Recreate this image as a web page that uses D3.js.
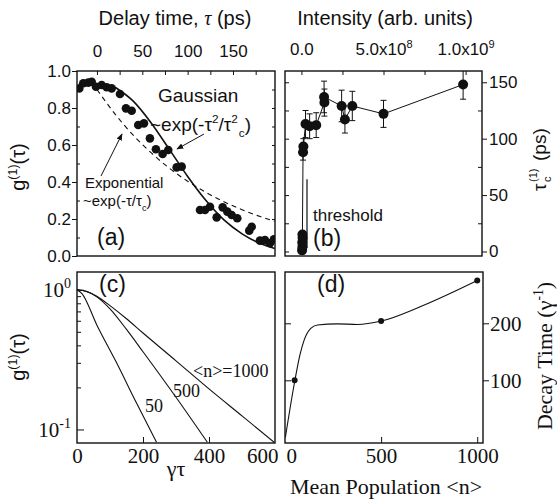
<!DOCTYPE html>
<html>
<head>
<meta charset="utf-8">
<script src="https://cdn.jsdelivr.net/npm/d3@7"></script>
<style>
  body { margin: 0; background: #fff; }
  svg { display: block; }
</style>
</head>
<body>
<svg id="chart" width="557" height="502"></svg>
<script>
// ---------- (a) first-order coherence vs delay time ----------
const delayPs = [-19.5, -15.1, -9.6, -5.8, -1.1, 5.2, 10.7, 16.2, 25.4, 32.0, 38.3, 45.5, 51.8,
  58.4, 65.0, 72.4, 78.6, 87.9, 93.4, 113.6, 119.1, 124.6, 132.0, 138.6, 143.7, 148.5, 154.7,
  167.9, 170.6, 179.7, 185.2, 190.7, 195.1];
const g1Measured = [0.906, 0.934, 0.937, 0.942, 0.915, 0.924, 0.912, 0.906, 0.876, 0.798, 0.785,
  0.708, 0.717, 0.636, 0.577, 0.551, 0.573, 0.479, 0.483, 0.249, 0.249, 0.266, 0.209, 0.263,
  0.240, 0.222, 0.204, 0.137, 0.158, 0.083, 0.086, 0.069, 0.090];
const gaussDelay = [20, 40, 60, 80, 100, 120, 140, 160, 180, 196];
const gaussG1 = [0.912, 0.837, 0.718, 0.575, 0.430, 0.301, 0.195, 0.120, 0.068, 0.041];
const expDelay = [0, 20, 40, 60, 80, 100, 120, 140, 160, 180, 196];
const expG1 = [0.900, 0.767, 0.653, 0.557, 0.474, 0.404, 0.344, 0.293, 0.250, 0.213, 0.188];
const delayTicks = [0, 50, 100, 150];
const g1Ticks = [0, 0.2, 0.4, 0.6, 0.8, 1.0];

// ---------- (b) coherence time vs pump intensity ----------
const intensity = [0.004e9, 0.006e9, 0.005e9, 0.007e9, 0.006e9, 0.010e9, 0.012e9, 0.025e9,
  0.050e9, 0.090e9, 0.140e9, 0.138e9, 0.245e9, 0.265e9, 0.310e9, 0.500e9, 0.985e9];
const coherenceTime = [1, 4, 8, 12, 15, 88, 93, 113, 111, 112, 132, 137, 129, 117, 129, 122, 148];
const coherenceErr = [0, 0, 0, 0, 0, 7, 7, 12, 11, 11, 12, 14, 14, 12, 13, 12, 13];
const intensityTicks = [0, 5e8, 1e9];
const tauTicks = [0, 50, 100, 150];

// ---------- (c) calculated g1 on a log scale ----------
const gammaTau1000 = [0, 30, 60, 100, 150, 200, 300, 400, 500, 600];
const g1n1000 = [1.0, 0.97, 0.90, 0.77, 0.62, 0.49, 0.31, 0.195, 0.125, 0.080];
const gammaTau500 = [0, 30, 60, 100, 150, 200, 300, 395];
const g1n500 = [1.0, 0.97, 0.89, 0.73, 0.52, 0.36, 0.17, 0.081];
const gammaTau50 = [0, 15, 60, 120, 180, 241];
const g1n50 = [1.0, 0.94, 0.56, 0.30, 0.155, 0.081];
const gammaTauTicks = [0, 200, 400, 600];

// ---------- (d) decay time vs mean population ----------
const popCurve = [2, 52, 78, 100, 134, 169, 272, 376, 501, 703, 1000];
const decayCurve = [0, 101, 145, 171, 191, 197, 199, 198, 204, 229, 275];
const popPoints = [50, 500, 1000];
const decayPoints = [100, 204, 275];
const popTicks = [0, 500, 1000];
const decayTicks = [100, 200];

const SANS = '"Liberation Sans", Arial, Helvetica, sans-serif';
const SERIF = '"Liberation Serif", "Times New Roman", serif';
const INK = '#111';

const svg = d3.select('#chart');

// panel frames
const A = {x0: 77, x1: 275, y0: 71, y1: 256};
const B = {x0: 285, x1: 482, y0: 71, y1: 256};
const C = {x0: 77, x1: 275, y0: 272, y1: 443};
const D = {x0: 285, x1: 483, y0: 272, y1: 443};

// text with super/subscript runs
function rich(parent, x, y, parts, o = {}) {
  const size = o.size || 17;
  const t = parent.append('text')
    .attr('x', x).attr('y', y)
    .attr('font-family', o.family || SANS)
    .attr('font-size', size)
    .attr('text-anchor', o.anchor || 'start')
    .attr('fill', INK);
  if (o.transform) t.attr('transform', o.transform);
  let cur = 0;
  parts.forEach(p => {
    const q = typeof p === 'string' ? {t: p} : p;
    const off = q.k === 'sup' ? -0.42 * size : q.k === 'sub' ? 0.3 * size : 0;
    const ts = t.append('tspan').text(q.t).attr('dy', off - cur);
    if (q.dx) ts.attr('dx', q.dx);
    if (q.k) ts.attr('font-size', (q.scale || 0.62) * size);
    if (q.family) ts.attr('font-family', q.family);
    if (q.italic) ts.attr('font-style', 'italic');
    cur = off;
  });
  return t;
}

function clip(id, F) {
  svg.append('clipPath').attr('id', id).append('rect')
    .attr('x', F.x0).attr('y', F.y0).attr('width', F.x1 - F.x0).attr('height', F.y1 - F.y0);
}
function frame(F) {
  svg.append('rect').attr('x', F.x0).attr('y', F.y0)
    .attr('width', F.x1 - F.x0).attr('height', F.y1 - F.y0)
    .attr('fill', 'none').attr('stroke', INK).attr('stroke-width', 1.4);
}
// tick-only axis (no labels, no domain line)
function ticksOnly(gen, tx, ty) {
  const g = svg.append('g').attr('transform', `translate(${tx},${ty})`)
    .call(gen.tickFormat(() => ''));
  g.select('.domain').remove();
  g.selectAll('line').attr('stroke', INK).attr('stroke-width', 1);
  return g;
}
function labelAxis(gen, tx, ty, family, size) {
  const g = svg.append('g').attr('transform', `translate(${tx},${ty})`).call(gen);
  g.select('.domain').remove();
  g.selectAll('line').attr('stroke', INK).attr('stroke-width', 1);
  g.selectAll('text').attr('font-family', family).attr('font-size', size).attr('fill', INK);
  return g;
}

['ca', 'cb', 'cc', 'cd'].forEach((id, i) => clip(id, [A, B, C, D][i]));

// ================= panel (a) =================
const aX = d3.scaleLinear().domain([-22, 196.3]).range([A.x0, A.x1]);
const aY = d3.scaleLinear().domain([0, 1]).range([A.y1, A.y0]);

labelAxis(d3.axisLeft(aY).tickValues(g1Ticks).tickFormat(d3.format('.1f')).tickSize(5).tickPadding(1),
  A.x0, 0, SANS, 17);
ticksOnly(d3.axisRight(aY).tickValues(d3.range(0.1, 1, 0.2)).tickSize(3), A.x0, 0);
ticksOnly(d3.axisLeft(aY).tickValues(d3.range(0.1, 1, 0.1)).tickSize(3), A.x1, 0);
labelAxis(d3.axisTop(aX).tickValues(delayTicks).tickSize(0).tickPadding(14), 0, A.y0, SANS, 17);
ticksOnly(d3.axisBottom(aX).tickValues(d3.range(0, 200, 25)).tickSize(4), 0, A.y0);

const pa = svg.append('g').attr('clip-path', 'url(#ca)');
pa.append('path')
  .datum(expDelay.map((d, i) => [d, expG1[i]]))
  .attr('d', d3.line().x(d => aX(d[0])).y(d => aY(d[1])).curve(d3.curveMonotoneX))
  .attr('fill', 'none').attr('stroke', INK).attr('stroke-width', 1.1).attr('stroke-dasharray', '5,4');
pa.append('path')
  .datum(gaussDelay.map((d, i) => [d, gaussG1[i]]))
  .attr('d', d3.line().x(d => aX(d[0])).y(d => aY(d[1])).curve(d3.curveMonotoneX))
  .attr('fill', 'none').attr('stroke', INK).attr('stroke-width', 1.6);
pa.selectAll('circle').data(delayPs).join('circle')
  .attr('cx', d => aX(d)).attr('cy', (d, i) => aY(g1Measured[i])).attr('r', 4.3).attr('fill', INK);
frame(A);

// arrowheads
const defs = svg.append('defs');
defs.append('marker').attr('id', 'arr').attr('viewBox', '0 0 10 10')
  .attr('refX', 9).attr('refY', 5).attr('markerWidth', 7).attr('markerHeight', 7)
  .attr('orient', 'auto').attr('markerUnits', 'userSpaceOnUse')
  .append('path').attr('d', 'M0,1 L10,5 L0,9 Z').attr('fill', INK);

rich(svg, 158, 102, ['Gaussian'], {size: 19});
rich(svg, 150, 131, ['~exp(-τ', {t: '2', k: 'sup'}, '/τ', {t: '2', k: 'sup'}, {t: 'c', k: 'sub', dx: 1}, ')'], {size: 19});
svg.append('line').attr('x1', 204).attr('y1', 134).attr('x2', 177).attr('y2', 149)
  .attr('stroke', INK).attr('stroke-width', 1).attr('marker-end', 'url(#arr)');
rich(svg, 85, 188, ['Exponential'], {size: 15});
rich(svg, 83, 206, ['~exp(-τ/τ', {t: 'c', k: 'sub'}, ')'], {size: 15});
svg.append('line').attr('x1', 101).attr('y1', 176).attr('x2', 122).attr('y2', 134)
  .attr('stroke', INK).attr('stroke-width', 1).attr('marker-end', 'url(#arr)');
rich(svg, 97, 245, ['(a)'], {size: 23});

// ================= panel (b) =================
const bX = d3.scaleLinear().domain([-0.1e9, 1.1e9]).range([B.x0, B.x1]);
const bY = d3.scaleLinear().domain([-4, 160]).range([B.y1, B.y0]);

labelAxis(d3.axisRight(bY).tickValues(tauTicks).tickSize(5).tickPadding(2), B.x1, 0, SANS, 17);
ticksOnly(d3.axisLeft(bY).tickValues([25, 75, 125]).tickSize(4), B.x1, 0);
ticksOnly(d3.axisRight(bY).tickValues(d3.range(0, 151, 25)).tickSize(4), B.x0, 0);
ticksOnly(d3.axisBottom(bX).tickValues(d3.range(0, 1.01e9, 2.5e8)).tickSize(4), 0, B.y0);
const bTop = labelAxis(d3.axisTop(bX).tickValues(intensityTicks).tickSize(0).tickPadding(16)
  .tickFormat(() => ''), 0, B.y0, SANS, 17);
bTop.selectAll('.tick text').each(function (d) {
  const t = d3.select(this);
  if (d === 0) { t.append('tspan').text('0.0'); return; }
  const exp = Math.floor(Math.log10(d));
  const mant = d / Math.pow(10, exp);
  t.append('tspan').text(mant.toFixed(1) + 'x10');
  t.append('tspan').text(exp).attr('dy', -7).attr('font-size', 11);
});

const pb = svg.append('g').attr('clip-path', 'url(#cb)');
const bPts = intensity.map((d, i) => ({x: d, y: coherenceTime[i], e: coherenceErr[i]}));
pb.append('path').datum(bPts)
  .attr('d', d3.line().x(d => bX(d.x)).y(d => bY(d.y)))
  .attr('fill', 'none').attr('stroke', INK).attr('stroke-width', 1);
// threshold marker
pb.append('line').attr('x1', bX(0.034e9)).attr('x2', bX(0.034e9))
  .attr('y1', bY(64)).attr('y2', bY(3)).attr('stroke', INK).attr('stroke-width', 1.2);
const eb = pb.selectAll('g.eb').data(bPts.filter(d => d.e > 0)).join('g').attr('class', 'eb');
eb.append('line').attr('x1', d => bX(d.x)).attr('x2', d => bX(d.x))
  .attr('y1', d => bY(d.y - d.e)).attr('y2', d => bY(d.y + d.e)).attr('stroke', INK).attr('stroke-width', 1);
eb.append('line').attr('x1', d => bX(d.x) - 3).attr('x2', d => bX(d.x) + 3)
  .attr('y1', d => bY(d.y + d.e)).attr('y2', d => bY(d.y + d.e)).attr('stroke', INK).attr('stroke-width', 1);
eb.append('line').attr('x1', d => bX(d.x) - 3).attr('x2', d => bX(d.x) + 3)
  .attr('y1', d => bY(d.y - d.e)).attr('y2', d => bY(d.y - d.e)).attr('stroke', INK).attr('stroke-width', 1);
pb.selectAll('circle').data(bPts).join('circle')
  .attr('cx', d => bX(d.x)).attr('cy', d => bY(d.y)).attr('r', 5).attr('fill', INK);
frame(B);
rich(svg, 313, 221, ['threshold'], {size: 17});
rich(svg, 313, 246, ['(b)'], {size: 23});

// ================= panel (c) =================
const cX = d3.scaleLinear().domain([0, 600]).range([C.x0, C.x1]);
const cY = d3.scaleLog().domain([0.080, 1.34]).range([C.y1, C.y0]);

const cLeft = labelAxis(d3.axisLeft(cY).tickValues([1, 0.1]).tickSize(0).tickPadding(6).tickFormat(() => ''),
  C.x0, 0, SERIF, 21);
cLeft.selectAll('.tick text').each(function (d) {
  const t = d3.select(this);
  t.append('tspan').text('10');
  t.append('tspan').text(Math.round(Math.log10(d))).attr('dy', -9).attr('font-size', 14);
});
ticksOnly(d3.axisRight(cY).tickValues([1, 0.1]).tickSize(7), C.x0, 0);
ticksOnly(d3.axisRight(cY).tickValues(d3.range(0.2, 0.95, 0.1)).tickSize(4), C.x0, 0);
const cBot = labelAxis(d3.axisBottom(cX).tickValues(gammaTauTicks).tickSize(0).tickPadding(5), 0, C.y1, SERIF, 21);
cBot.selectAll('.tick text').filter(d => d === 600).attr('text-anchor', 'end').attr('dx', 3);
ticksOnly(d3.axisTop(cX).tickValues([200, 400]).tickSize(6), 0, C.y1);

const pc = svg.append('g').attr('clip-path', 'url(#cc)');
[[gammaTau1000, g1n1000], [gammaTau500, g1n500], [gammaTau50, g1n50]].forEach(([xs, ys]) => {
  pc.append('path').datum(xs.map((d, i) => [d, ys[i]]))
    .attr('d', d3.line().x(d => cX(d[0])).y(d => cY(d[1])).curve(d3.curveMonotoneX))
    .attr('fill', 'none').attr('stroke', INK).attr('stroke-width', 1.1);
});
frame(C);
rich(svg, 193, 377, ['<n>=1000'], {size: 18, family: SERIF});
rich(svg, 173, 397, ['500'], {size: 18, family: SERIF});
rich(svg, 145, 412, ['50'], {size: 18, family: SERIF});
rich(svg, 99, 292, ['(c)'], {size: 23});

// ================= panel (d) =================
const dX = d3.scaleLinear().domain([0, 1030]).range([D.x0, D.x1]);
const dY = d3.scaleLinear().domain([-10, 290]).range([D.y1, D.y0]);

labelAxis(d3.axisRight(dY).tickValues(decayTicks).tickSize(6).tickPadding(1), D.x1, 0, SERIF, 21);
ticksOnly(d3.axisRight(dY).tickValues(decayTicks).tickSize(6), D.x0, 0);
const dBot = labelAxis(d3.axisBottom(dX).tickValues(popTicks).tickFormat(d3.format('d')).tickSize(0).tickPadding(5),
  0, D.y1, SERIF, 21);
dBot.selectAll('.tick text').filter(d => d === 0).attr('text-anchor', 'start').attr('dx', 1);
ticksOnly(d3.axisTop(dX).tickValues([500, 1000]).tickSize(6), 0, D.y1);

const pd = svg.append('g').attr('clip-path', 'url(#cd)');
pd.append('path').datum(popCurve.map((d, i) => [d, decayCurve[i]]))
  .attr('d', d3.line().x(d => dX(d[0])).y(d => dY(d[1])).curve(d3.curveMonotoneX))
  .attr('fill', 'none').attr('stroke', INK).attr('stroke-width', 1.1);
pd.selectAll('circle').data(popPoints).join('circle')
  .attr('cx', d => dX(d)).attr('cy', (d, i) => dY(decayPoints[i])).attr('r', 3).attr('fill', INK);
frame(D);
rich(svg, 317, 292, ['(d)'], {size: 23});

// ================= titles and axis names =================
rich(svg, 175, 25, ['Delay time, ', {t: 'τ', family: SERIF, italic: true}, ' (ps)'], {size: 20, anchor: 'middle'});
rich(svg, 385, 25, ['Intensity (arb. units)'], {size: 20, anchor: 'middle'});
rich(svg, 0, 0, ['g', {t: '(1)', k: 'sup'}, '(τ)'], {size: 20, anchor: 'middle', transform: 'translate(25,167) rotate(-90)'});
rich(svg, 0, 0, ['g', {t: '(1)', k: 'sup'}, '(τ)'], {size: 20, anchor: 'middle', transform: 'translate(25,357) rotate(-90)'});

// right-hand label of (b): tau_c^(1) (ps)
const rl = svg.append('g').attr('transform', 'translate(546,153) rotate(-90)')
  .attr('font-family', SANS).attr('fill', INK);
rl.append('text').attr('x', -38).attr('y', 0).attr('font-size', 19).text('τ');
rl.append('text').attr('x', -29).attr('y', -9).attr('font-size', 11).text('(1)');
rl.append('text').attr('x', -29).attr('y', 5).attr('font-size', 11).text('c');
rl.append('text').attr('x', -8).attr('y', 0).attr('font-size', 19).text('(ps)');

rich(svg, 176, 476, ['γτ'], {size: 22, family: SERIF, anchor: 'middle'});
rich(svg, 386, 494, ['Mean Population <n>'], {size: 22, family: SERIF, anchor: 'middle'});
rich(svg, 0, 0, ['Decay Time (γ', {t: '-1', k: 'sup'}, ')'], {size: 22, family: SERIF, anchor: 'middle',
  transform: 'translate(552,356) rotate(-90)'});
</script>
</body>
</html>
